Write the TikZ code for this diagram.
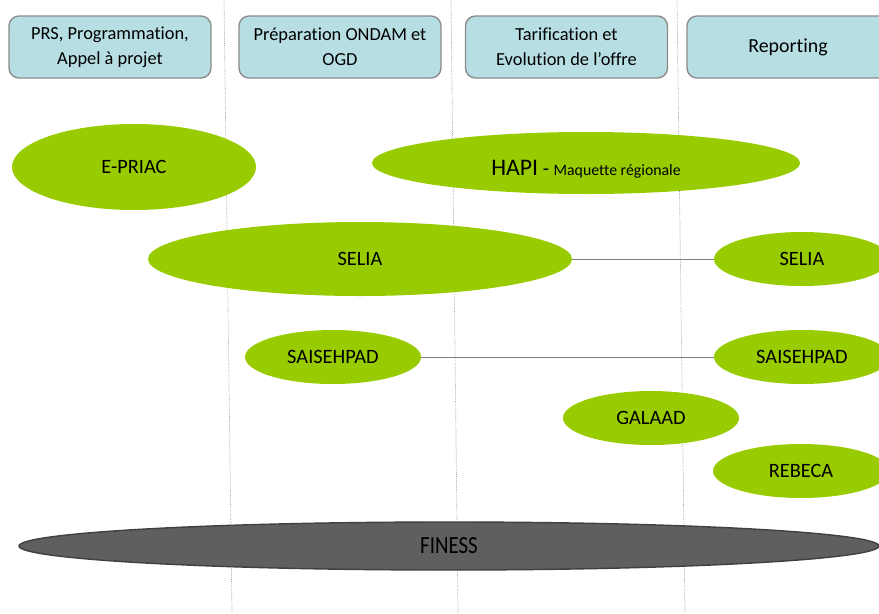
\documentclass[tikz,border=0pt]{standalone}
\usepackage{fontspec}
\setmainfont[Ligatures=NoCommon]{Carlito}
\usepackage{tikz}
\usetikzlibrary{shapes.geometric}

\definecolor{headblue}{HTML}{B7DEE3}
\definecolor{appgreen}{HTML}{99CC00}
\definecolor{basegray}{HTML}{5F5F5F}

\begin{document}
\begin{tikzpicture}[x = 0.03cm, y = -0.03cm, semithick,
    head/.style = {rectangle, rounded corners = 0.3cm, draw = gray!90, line width = 1.2pt, fill = headblue, minimum width = 6.06cm, minimum height = 1.86cm, align = center, inner sep = 0pt, font = \fontsize{15.7}{21}\selectfont},
    app/.style = {ellipse, fill = appgreen, inner sep = 0pt, minimum width = 5.28cm, minimum height = 1.62cm, font = \fontsize{17.4}{21}\selectfont},
    sep/.style = {gray!80, densely dotted, line width = 0.6pt},
    link/.style = {gray, thin}]
    \useasboundingbox (0, 0) rectangle (879, 613);
    % column separators
    \coordinate (s1t) at (224, 0);  \coordinate (s1b) at (232, 613);
    \coordinate (s2t) at (451, 0);  \coordinate (s2b) at (458, 613);
    \coordinate (s3t) at (677, 0);  \coordinate (s3b) at (685, 613);
    \draw[sep] (s1t) -- (s1b);
    \draw[sep] (s2t) -- (s2b);
    \draw[sep] (s3t) -- (s3b);
    % column headers
    \node[head] (h1) at (110, 47) {PRS, Programmation,\\Appel à projet};
    \node[head] (h2) at (340, 47) {Préparation ONDAM et\\OGD};
    \node[head] (h3) at (566.5, 47) {Tarification et\\Evolution de l’offre};
    \node[head, font = \fontsize{17}{21}\selectfont] (h4) at (788, 47) {Reporting};
    % applications
    \node[app, minimum width = 7.32cm, minimum height = 2.58cm] (epriac) at (134, 167) {E-PRIAC};
    \node[app, minimum width = 12.84cm, minimum height = 1.86cm] (hapi) at (586, 163) {\raisebox{-0.38cm}[0pt][0pt]{{\fontsize{20.3}{24}\selectfont HAPI} - {\fontsize{13.5}{16}\selectfont Maquette régionale}}};
    \node[app, minimum width = 12.72cm, minimum height = 2.22cm] (selia1) at (360, 259) {SELIA};
    \node[app] (selia2) at (802, 259) {SELIA};
    \node[app] (saise1) at (333, 357) {SAISEHPAD};
    \node[app] (saise2) at (802, 357) {SAISEHPAD};
    \node[app] (galaad) at (651, 418) {GALAAD};
    \node[app] (rebeca) at (801, 471) {REBECA};
    \node[ellipse, draw = black!75, line width = 1.2pt, fill = basegray, inner sep = 0pt, minimum width = 25.8cm, minimum height = 1.44cm, font = \fontsize{21}{24}\selectfont\addfontfeature{FakeStretch=0.85}] (finess) at (449, 546) {FINESS};
    \draw[link] (selia1) -- (selia2);
    \draw[link] (saise1) -- (saise2);
\end{tikzpicture}
\end{document}
